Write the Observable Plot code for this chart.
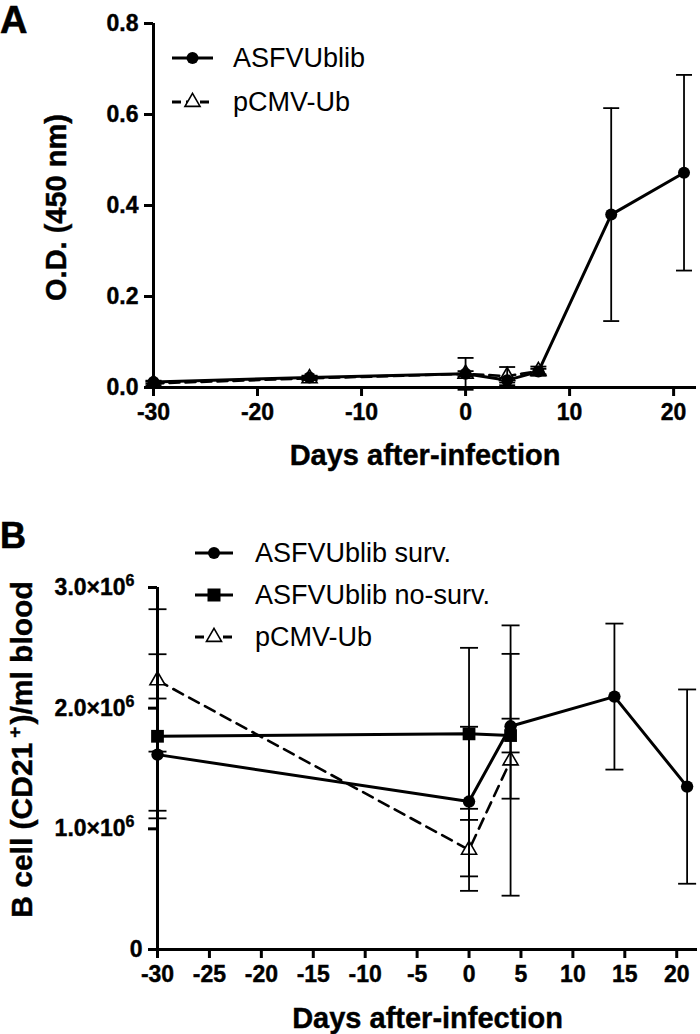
<!DOCTYPE html>
<html>
<head>
<meta charset="utf-8">
<script src="https://cdn.jsdelivr.net/npm/d3@7"></script>
<script src="https://cdn.jsdelivr.net/npm/@observablehq/plot@0.6"></script>
<style>
  body { margin: 0; background: #fff; }
  #wrap { position: relative; width: 700px; height: 1034px; background: #fff; overflow: hidden; }
  #wrap > svg { position: absolute; left: 0; }
</style>
</head>
<body>
<div id="wrap"></div>
<script>
// ---------- DATA ----------
// Panel A: O.D. (450 nm) vs days after infection (mean ± SE)
const daysA_asfv = [-30, -15, 0, 4, 7, 14, 21];
const odA_asfv   = [0.012, 0.022, 0.030, 0.016, 0.035, 0.380, 0.472];
const seA_asfv   = [0.003, 0.004, 0.006, 0.005, 0.006, 0.234, 0.215];
const daysA_pcmv = [-30, -15, 0, 4, 7];
const odA_pcmv   = [0.009, 0.020, 0.030, 0.025, 0.036];
const seA_pcmv   = [0.004, 0.004, 0.035, 0.020, 0.010];

// Panel B: B cell (CD21+)/ml blood vs days after infection (mean ± SE)
const daysB_surv   = [-30, 0, 4, 14, 21];
const cellsB_surv  = [1.615e6, 1.226e6, 1.850e6, 2.096e6, 1.350e6];
const seB_surv     = [0.465e6, 0.620e6, 0.600e6, 0.605e6, 0.805e6];
const daysB_nosurv  = [-30, 0, 4];
const cellsB_nosurv = [1.767e6, 1.787e6, 1.773e6];
const seB_nosurv    = [0.680e6, 0.713e6, 0.140e6];
const daysB_pcmv   = [-30, 0, 4];
const cellsB_pcmv  = [2.230e6, 0.826e6, 1.566e6];
const seB_pcmv     = [0.590e6, 0.340e6, 1.120e6];

const seriesA = ["ASFVUblib", "pCMV-Ub"];
const seriesB = ["ASFVUblib surv.", "ASFVUblib no-surv.", "pCMV-Ub"];

const xTicksA = [-30, -20, -10, 0, 10, 20];
const yTicksA = [0, 0.2, 0.4, 0.6, 0.8];
const xTicksB = [-30, -25, -20, -15, -10, -5, 0, 5, 10, 15, 20];
const yTicksB = [0, 1e6, 2e6, 3e6];

const titleA_y = "O.D. (450 nm)";
const titleB_y = "B cell (CD21^+)/ml blood";
const titleX = "Days after-infection";

// ---------- HELPERS ----------
const FONT = '"Liberation Sans", Arial, Helvetica, sans-serif';
function rows(series, days, vals, se) {
  return days.map((d, i) => ({series, day: d, v: vals[i], lo: vals[i] - se[i], hi: vals[i] + se[i]}));
}
const capSymbol = { draw(ctx, size) { const w = Math.sqrt(size / Math.PI); ctx.moveTo(-w, 0); ctx.lineTo(w, 0); } };

function errorMarks(data, capR) {
  return [
    Plot.ruleX(data, {x: "day", y1: "lo", y2: "hi", stroke: "black", strokeWidth: 1.8}),
    Plot.dot(data, {x: "day", y: "lo", r: capR, symbol: capSymbol, fill: "none", stroke: "black", strokeWidth: 1.8}),
    Plot.dot(data, {x: "day", y: "hi", r: capR, symbol: capSymbol, fill: "none", stroke: "black", strokeWidth: 1.8})
  ];
}
const axisStyle = {tickSize: 9, fontWeight: "bold", fontSize: 23, strokeWidth: 3, label: null};

const wrap = document.getElementById("wrap");

function fixText(svg) {
  const s = d3.select(svg);
  s.selectAll("text").filter(function () { return !this.closest(".title-text"); })
    .style("font-size", "23px").style("font-weight", "bold")
    .style("stroke", "black").style("stroke-width", "0.4px").style("paint-order", "stroke");
  s.selectAll(".title-text text")
    .style("stroke", "black").style("stroke-width", "0.4px").style("paint-order", "stroke");
}

// ---------- PANEL A ----------
const aAsfv = rows(seriesA[0], daysA_asfv, odA_asfv, seA_asfv);
const aPcmv = rows(seriesA[1], daysA_pcmv, odA_pcmv, seA_pcmv);

const plotA = Plot.plot({
  width: 700, height: 480,
  marginTop: 23, marginBottom: 93, marginLeft: 153, marginRight: 4,
  x: {domain: [-30, 22.2]},
  y: {domain: [0, 0.8]},
  style: {fontFamily: FONT, fontSize: "23px", color: "black", background: "transparent", overflow: "visible"},
  marks: [
    Plot.line(aPcmv, {x: "day", y: "v", stroke: "black", strokeWidth: 2.6, strokeDasharray: "10,6"}),
    Plot.line(aAsfv, {x: "day", y: "v", stroke: "black", strokeWidth: 3}),
    Plot.dot(aPcmv, {x: "day", y: "v", symbol: "triangle", r: 5.6, fill: "white", stroke: "black", strokeWidth: 1.6}),
    Plot.dot(aAsfv, {x: "day", y: "v", symbol: "circle", r: 6, fill: "black"}),
    ...errorMarks(aAsfv, 8),
    ...errorMarks(aPcmv, 8),
    Plot.axisX({...axisStyle, ticks: xTicksA, tickPadding: 7, tickFormat: d => String(d)}),
    Plot.axisY({...axisStyle, ticks: yTicksA, tickPadding: 6, tickFormat: d3.format(".1f")}),
    Plot.ruleX([-30], {stroke: "black", strokeWidth: 3}),
    Plot.ruleY([0], {stroke: "black", strokeWidth: 3}),
    Plot.text([titleA_y], {frameAnchor: "left", dx: -97, dy: 2, rotate: -90, textAnchor: "middle", fontSize: 29, fontWeight: "bold", lineAnchor: "middle", fill: "black", className: "title-text"}),
    Plot.text([titleX], {frameAnchor: "bottom", dy: 68, textAnchor: "middle", fontSize: 29, fontWeight: "bold", lineAnchor: "middle", fill: "black", className: "title-text"})
  ]
});
plotA.style.top = "0px";
fixText(plotA);
wrap.appendChild(plotA);

// ---------- PANEL B ----------
const bSurv = rows(seriesB[0], daysB_surv, cellsB_surv, seB_surv);
const bNo = rows(seriesB[1], daysB_nosurv, cellsB_nosurv, seB_nosurv);
const bPcmv = rows(seriesB[2], daysB_pcmv, cellsB_pcmv, seB_pcmv);

const plotB = Plot.plot({
  width: 700, height: 514,
  marginTop: 67, marginBottom: 85, marginLeft: 157, marginRight: 3,
  x: {domain: [-30, 22]},
  y: {domain: [0, 3e6]},
  style: {fontFamily: FONT, fontSize: "23px", color: "black", background: "transparent", overflow: "visible"},
  marks: [
    Plot.line(bPcmv, {x: "day", y: "v", stroke: "black", strokeWidth: 2.6, strokeDasharray: "11,7"}),
    Plot.line(bNo, {x: "day", y: "v", stroke: "black", strokeWidth: 3}),
    Plot.line(bSurv, {x: "day", y: "v", stroke: "black", strokeWidth: 3}),
    Plot.dot(bPcmv, {x: "day", y: "v", symbol: "triangle", r: 5.6, fill: "white", stroke: "black", strokeWidth: 1.6}),
    Plot.dot(bNo, {x: "day", y: "v", symbol: "square", r: 7.2, fill: "black"}),
    Plot.dot(bSurv, {x: "day", y: "v", symbol: "circle", r: 6.2, fill: "black"}),
    ...errorMarks(bSurv, 9),
    ...errorMarks(bNo, 9),
    ...errorMarks(bPcmv, 9),
    Plot.axisX({...axisStyle, ticks: xTicksB, tickPadding: 7, tickFormat: d => String(d)}),
    Plot.axisY({...axisStyle, ticks: yTicksB, tickPadding: 6, tickFormat: d => d === 0 ? "0" : (d / 1e6).toFixed(1) + "×10^6"}),
    Plot.ruleX([-30], {stroke: "black", strokeWidth: 3}),
    Plot.ruleY([0], {stroke: "black", strokeWidth: 3}),
    Plot.text([titleB_y], {frameAnchor: "left", dx: -135, dy: -19, rotate: -90, textAnchor: "middle", fontSize: 30, fontWeight: "bold", lineAnchor: "middle", fill: "black", className: "title-text"}),
    Plot.text([titleX], {frameAnchor: "bottom", dy: 69, textAnchor: "middle", fontSize: 29, fontWeight: "bold", lineAnchor: "middle", fill: "black", className: "title-text"})
  ]
});
plotB.style.top = "520px";
fixText(plotB);
wrap.appendChild(plotB);

// superscripts: tick labels "×10^6" and title "CD21^+"
d3.select(plotB).selectAll("text").each(function () {
  const t = this.textContent;
  if (!t.includes("^") || this.querySelector("tspan")) return;
  const m = t.match(/^(.*?)\^(.)(.*)$/);
  const sel = d3.select(this);
  sel.text(m[1]);
  const big = m[3].length > 0;
  if (!big) sel.attr("dx", -8);
  sel.append("tspan").attr("dy", big ? -11 : -9).attr("dx", big ? 5 : 0).style("font-size", big ? "19px" : "16px").text(m[2]);
  if (big) sel.append("tspan").attr("dy", 11).attr("dx", 2).text(m[3]);
});

// ---------- LEGENDS & PANEL LETTERS (overlay) ----------
const ov = d3.select(wrap).append("svg")
  .attr("width", 700).attr("height", 1034)
  .style("top", "0px").style("pointer-events", "none")
  .attr("font-family", FONT);

function legend(names, types, y0, step, x0, x1, tx) {
  names.forEach((name, i) => {
    const y = y0 + i * step;
    const t = types[i];
    ov.append("line").attr("x1", x0).attr("x2", x1).attr("y1", y).attr("y2", y)
      .attr("stroke", "black").attr("stroke-width", 3)
      .attr("stroke-dasharray", t === "triangle" ? "9,5" : null);
    const cx = (x0 + x1) / 2;
    if (t === "circle") ov.append("circle").attr("cx", cx).attr("cy", y).attr("r", 6).attr("fill", "black");
    else if (t === "square") ov.append("rect").attr("x", cx - 6.5).attr("y", y - 6.5).attr("width", 13).attr("height", 13).attr("fill", "black");
    else ov.append("path").attr("d", d3.symbol(d3.symbolTriangle, Math.PI * 5.6 * 5.6)()).attr("transform", `translate(${cx},${y})`)
      .attr("fill", "white").attr("stroke", "black").attr("stroke-width", 1.6);
    ov.append("text").attr("x", tx).attr("y", y).attr("dy", "0.35em").attr("font-size", 27).attr("fill", "black").text(name);
  });
}
legend(seriesA, ["circle", "triangle"], 58, 44, 172, 213, 233);
legend(seriesB, ["circle", "square", "triangle"], 553, 42, 195, 233, 255);

ov.append("text").attr("x", 0).attr("y", 33).attr("font-size", 38).attr("font-weight", "bold").attr("stroke", "black").attr("stroke-width", 0.6).text("A");
ov.append("text").attr("x", 0).attr("y", 548).attr("font-size", 36).attr("font-weight", "bold").attr("stroke", "black").attr("stroke-width", 0.6).text("B");
</script>
</body>
</html>
